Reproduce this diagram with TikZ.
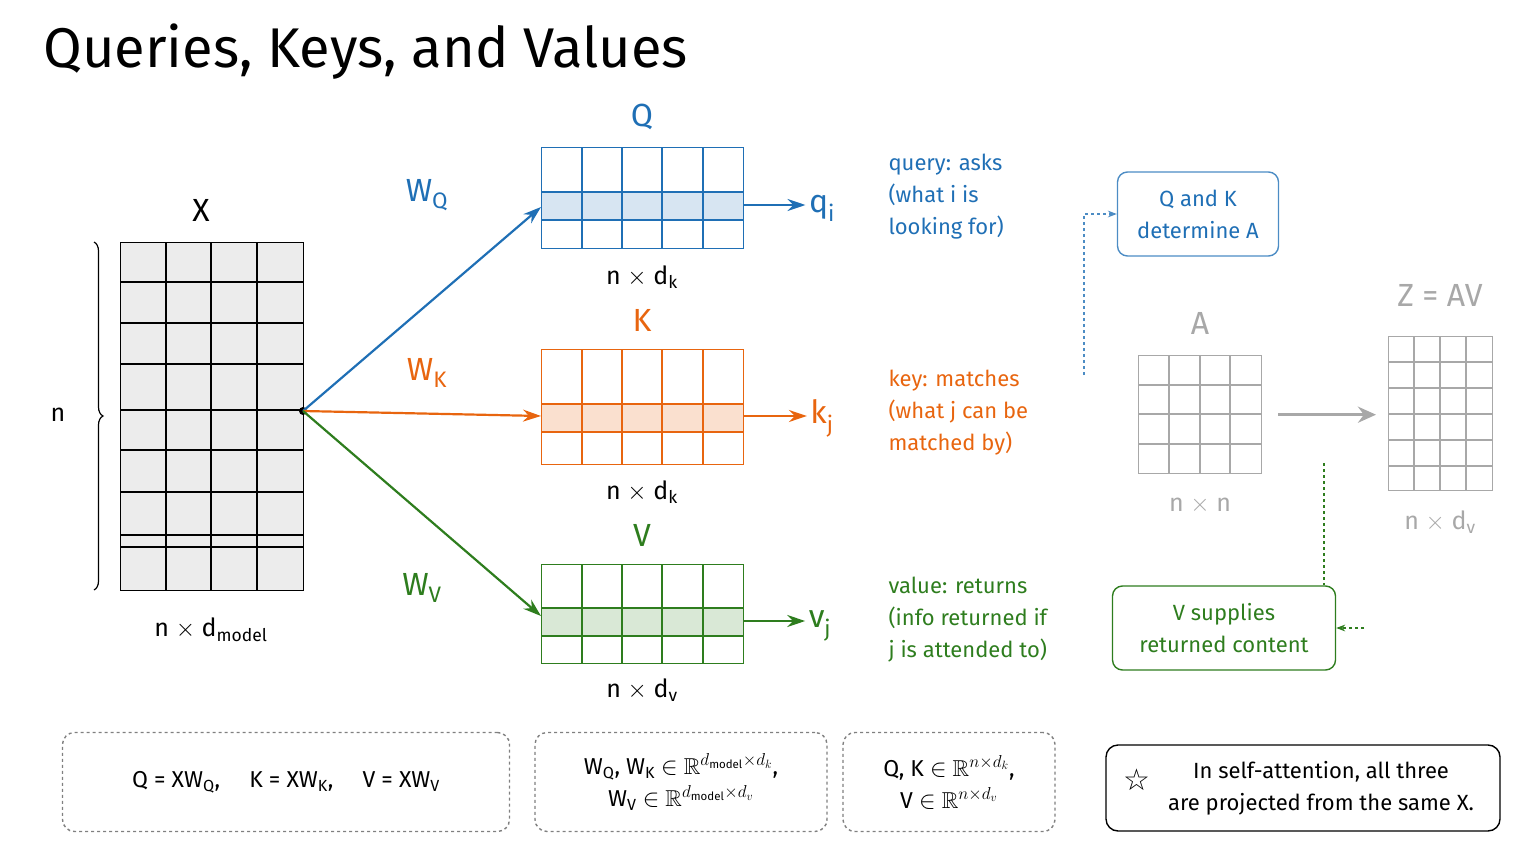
\documentclass[tikz,border=0pt]{standalone}
\usepackage{amsmath,amssymb}
\usepackage{fontspec}
\setmainfont{Fira Sans}
\newfontfamily\symfont{DejaVu Sans}
\usetikzlibrary{arrows.meta,decorations.pathreplacing}
\definecolor{qblue}{HTML}{1F6FB5}
\definecolor{kora}{HTML}{E8650F}
\definecolor{vgreen}{HTML}{2E7D1E}
\definecolor{zgray}{HTML}{A8A8A8}
\tikzset{
  mat/.style={draw, line width=1.4pt, inner sep=0pt, anchor=north west},
  lbl/.style={font=\fontsize{25}{30}\selectfont},
  big/.style={font=\fontsize{32}{36}\selectfont},
  note/.style={font=\fontsize{22}{32}\selectfont, align=left, anchor=north west},
  proj/.style={-{Stealth[length=18pt,width=12pt]}, line width=2.2pt},
  tag/.style={draw, rounded corners=10pt, line width=1.4pt, font=\fontsize{22}{32}\selectfont, align=center},
  eqbox/.style={draw=gray, dashed, rounded corners=12pt, line width=1.4pt, font=\fontsize{23}{32}\selectfont, align=center},
}
\begin{document}
\begin{tikzpicture}[x=1pt,y=-1pt]
\useasboundingbox (0,0) rectangle (1536,864);

% title
\node[anchor=west, font=\fontsize{56}{64}\selectfont] (title) at (40,52) {Queries, Keys, and Values};

% input X
\node[mat, fill=gray!15, minimum width=183pt, minimum height=348pt] (X) at (120,242) {};
\foreach \x in {166,211,257} \draw[line width=1.2pt] (\x,242) -- (\x,590);
\foreach \y in {282,323,364,410,450,492,535,547} \draw[line width=1.2pt] (120,\y) -- (303,\y);
\node[big] (xlab) at (201,210) {X};
\draw[decorate, decoration={brace, amplitude=9pt, mirror}, line width=1.2pt] (94,590) -- (94,242);
\node[lbl] (nlab) at (58,415) {n};
\node[lbl] (xdim) at (211,630) {n $\times$ d$_{\text{model}}$};

% Q, K, V
\fill[qblue!18] (541,192) rectangle (743,220);
\fill[kora!20] (541,404) rectangle (743,432);
\fill[vgreen!18] (541,608) rectangle (743,636);
\node[mat, draw=qblue, minimum width=202pt, minimum height=101pt] (Q) at (541,147) {};
\node[mat, draw=kora, minimum width=202pt, minimum height=115pt] (K) at (541,349) {};
\node[mat, draw=vgreen, minimum width=202pt, minimum height=99pt] (V) at (541,564) {};
\foreach \x in {582,622,662,703} {
  \draw[qblue, line width=1.2pt] (\x,147) -- (\x,248);
  \draw[kora, line width=1.2pt] (\x,349) -- (\x,464);
  \draw[vgreen, line width=1.2pt] (\x,564) -- (\x,663);
}
\foreach \y in {192,220} \draw[qblue, line width=1.2pt] (541,\y) -- (743,\y);
\foreach \y in {404,432} \draw[kora, line width=1.2pt] (541,\y) -- (743,\y);
\foreach \y in {608,636} \draw[vgreen, line width=1.2pt] (541,\y) -- (743,\y);
\node[big, qblue] (qlab) at (642,117) {Q};
\node[big, kora] (klab) at (642,320) {K};
\node[big, vgreen] (vlab) at (642,535) {V};
\node[lbl] (qdim) at (642,277) {n $\times$ d$_{\text{k}}$};
\node[lbl] (kdim) at (642,492) {n $\times$ d$_{\text{k}}$};
\node[lbl] (vdim) at (642,690) {n $\times$ d$_{\text{v}}$};

% rows out
\node[big, qblue] (qi) at (822,208) {q$_{\text{i}}$};
\node[big, kora] (kj) at (822,418) {k$_{\text{j}}$};
\node[big, vgreen] (vj) at (820,626) {v$_{\text{j}}$};
\draw[proj, qblue] (Q.east |- 0,205) -- (qi.west |- 0,205);
\draw[proj, kora] (K.east |- 0,416) -- (kj.west |- 0,416);
\draw[proj, vgreen] (V.east |- 0,621) -- (vj.west |- 0,621);

% projections
\coordinate (src) at (303,411);
\fill (src) circle (4pt);
\draw[proj, qblue] (src) -- (Q.west |- 0,207);
\draw[proj, kora] (src) -- (K.west |- 0,416);
\draw[proj, vgreen] (src) -- (V.west |- 0,616);
\node[big, qblue] (wq) at (427,195) {W$_{\text{Q}}$};
\node[big, kora] (wk) at (427,373) {W$_{\text{K}}$};
\node[big, vgreen] (wv) at (422,588) {W$_{\text{V}}$};

% notes
\node[note, qblue] (qnote) at (885,150) {query: asks\\(what i is\\looking for)};
\node[note, kora] (knote) at (885,366) {key: matches\\(what j can be\\matched by)};
\node[note, vgreen] (vnote) at (885,573) {value: returns\\(info returned if\\j is attended to)};

% attention side
\node[tag, draw=qblue!80, text=qblue, minimum width=161pt, minimum height=84pt] (qk) at (1198,214) {Q and K\\determine A};
\node[tag, draw=vgreen, text=vgreen, minimum width=223pt, minimum height=84pt] (vs) at (1224,628) {V supplies\\returned content};
\coordinate (qkfoot) at (1084,375);
\draw[qblue!80, dashed, -{Stealth[length=9pt]}, line width=1.2pt] (qkfoot) |- (qk.west);
\coordinate (vstop) at (1324,463);
\draw[vgreen, dashed, line width=1.2pt] (vstop) -- (vstop |- vs.north);
\coordinate (vsright) at (1364,628);
\draw[vgreen, dashed, -{Stealth[length=9pt]}, line width=1.2pt] (vsright) -- (vs.east);

\node[mat, draw=zgray, minimum width=123pt, minimum height=118pt] (A) at (1138,355) {};
\foreach \x in {1169,1200,1230} \draw[zgray, line width=1.2pt] (\x,355) -- (\x,473);
\foreach \y in {385,414,444} \draw[zgray, line width=1.2pt] (1138,\y) -- (1261,\y);
\node[mat, draw=zgray, minimum width=104pt, minimum height=154pt] (Z) at (1388,336) {};
\foreach \x in {1414,1440,1466} \draw[zgray, line width=1.2pt] (\x,336) -- (\x,490);
\foreach \y in {362,388,414,440,466} \draw[zgray, line width=1.2pt] (1388,\y) -- (1492,\y);
\node[big, zgray] (alab) at (1200,323) {A};
\node[big, zgray] (zlab) at (1440,295) {Z = AV};
\node[lbl, zgray] (adim) at (1200,505) {n $\times$ n};
\node[lbl, zgray] (zdim) at (1440,522) {n $\times$ d$_{\text{v}}$};
\draw[zgray, line width=3pt, -{Stealth[length=18pt,width=16pt]}] ([xshift=16pt]A.east) -- ([xshift=-12pt]Z.west |- A.east);

% formulas
\node[eqbox, minimum width=447pt, minimum height=99pt] (eq1) at (286,782) {Q = XW$_{\text{Q}}$,\quad\ K = XW$_{\text{K}}$,\quad\ V = XW$_{\text{V}}$};
\node[eqbox, minimum width=292pt, minimum height=99pt] (eq2) at (681,782) {W$_{\text{Q}}$, W$_{\text{K}}$ $\in$ $\mathbb{R}^{d_{\mathrm{model}}\times d_k}$,\\W$_{\text{V}}$ $\in$ $\mathbb{R}^{d_{\mathrm{model}}\times d_v}$};
\node[eqbox, minimum width=212pt, minimum height=99pt] (eq3) at (949,782) {Q, K $\in$ $\mathbb{R}^{n\times d_k}$,\\V $\in$ $\mathbb{R}^{n\times d_v}$};
\node[tag, rounded corners=12pt, minimum width=394pt, minimum height=86pt] (remark) at (1303,788) {\hspace*{36pt}In self-attention, all three\\\hspace*{36pt}are projected from the same X.};
\node[font=\fontsize{30}{30}\symfont] (star) at (1137,780) {☆};
\end{tikzpicture}
\end{document}
